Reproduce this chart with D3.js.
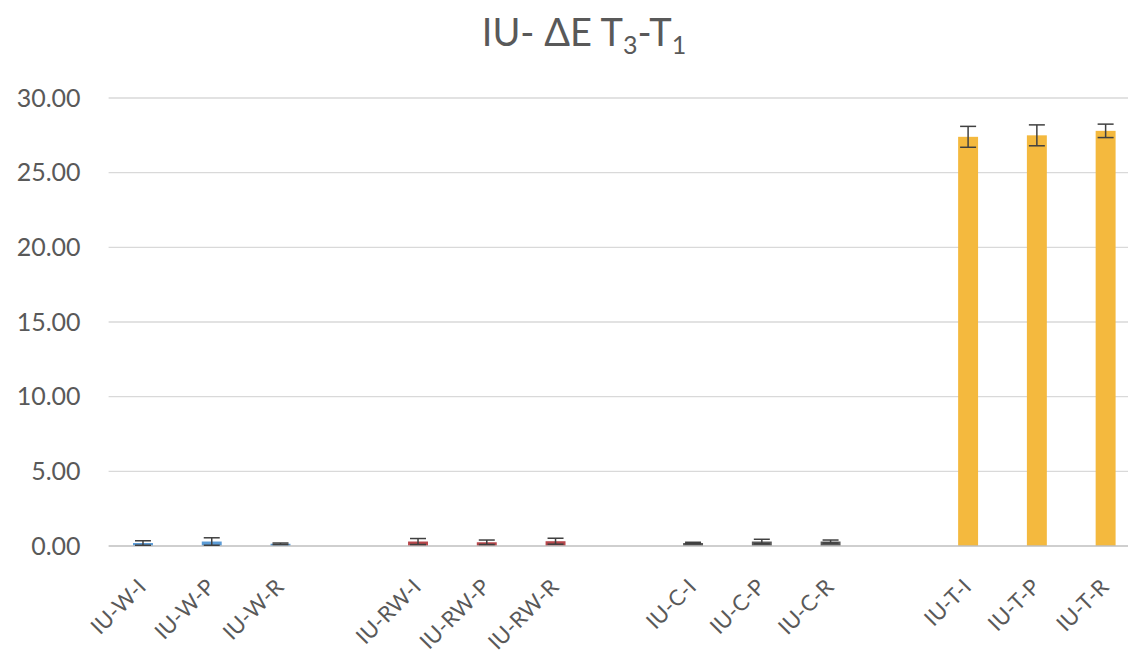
<!DOCTYPE html>
<html>
<head>
<meta charset="utf-8">
<script src="https://cdn.jsdelivr.net/npm/d3@7"></script>
<style>
  html, body { margin: 0; padding: 0; background: #fff; }
  svg { display: block; font-family: Lato, "Open Sans", sans-serif; }
</style>
</head>
<body>
<svg id="chart" width="1128" height="660"></svg>
<script>
// Categories (empty strings are the gaps between groups)
const categories = ["IU-W-I","IU-W-P","IU-W-R","",
                    "IU-RW-I","IU-RW-P","IU-RW-R","",
                    "IU-C-I","IU-C-P","IU-C-R","",
                    "IU-T-I","IU-T-P","IU-T-R"];
const values = [0.20, 0.30, 0.15, null,
                0.30, 0.25, 0.32, null,
                0.20, 0.30, 0.30, null,
                27.40, 27.50, 27.80];
const errors = [0.15, 0.25, 0.05, null,
                0.20, 0.15, 0.20, null,
                0.05, 0.15, 0.10, null,
                0.70, 0.70, 0.45];
const groupOf = ["W","W","W",null,"RW","RW","RW",null,"C","C","C",null,"T","T","T"];
const groupColors = {W: "#5B9BD5", RW: "#B8474B", C: "#595959", T: "#F4B93E"};
const yTicks = [0, 5, 10, 15, 20, 25, 30];

const svg = d3.select("#chart");
const W = 1128, H = 660;
const mLeft = 108.6, mRight = 1140, mTop = 98, mBottom = 546;

const x = d3.scaleBand().domain(d3.range(categories.length))
  .range([mLeft, mRight]).paddingInner(0.71).paddingOuter(0.355);
const y = d3.scaleLinear().domain([0, 30]).range([mBottom, mTop]);

// Title
const title = svg.append("text")
  .attr("x", 584).attr("y", 46)
  .attr("text-anchor", "middle")
  .attr("fill", "#595959")
  .attr("font-size", 38);
title.append("tspan").text("IU- \u0394E T");
title.append("tspan").attr("font-size", 25).attr("dy", 8).text("3");
title.append("tspan").attr("dy", -8).text("-T");
title.append("tspan").attr("font-size", 25).attr("dy", 8).text("1");

// Gridlines
svg.append("g").selectAll("line").data(yTicks.filter(d => d > 0)).join("line")
  .attr("x1", mLeft).attr("x2", W)
  .attr("y1", d => y(d)).attr("y2", d => y(d))
  .attr("stroke", "#D9D9D9").attr("stroke-width", 1.3);

// Y axis labels
const yAxis = svg.append("g").attr("transform", `translate(${mLeft},0)`)
  .call(d3.axisLeft(y).tickValues(yTicks).tickFormat(d3.format(".2f")).tickSize(0).tickPadding(28));
yAxis.select(".domain").remove();
yAxis.selectAll("text").attr("fill", "#595959").attr("font-size", 25)
  .attr("font-family", "Lato, 'Open Sans', sans-serif");

// Bars
const idx = d3.range(categories.length).filter(i => values[i] !== null);
svg.append("g").selectAll("rect").data(idx).join("rect")
  .attr("x", i => x(i)).attr("width", x.bandwidth())
  .attr("y", i => y(values[i])).attr("height", i => y(0) - y(values[i]))
  .attr("fill", i => groupColors[groupOf[i]]);

// Baseline axis
svg.append("line").attr("x1", mLeft).attr("x2", W)
  .attr("y1", y(0)).attr("y2", y(0))
  .attr("stroke", "#BFBFBF").attr("stroke-width", 1.3);

// Error bars
const eg = svg.append("g").attr("stroke", "#404040").attr("stroke-width", 1.5);
idx.forEach(i => {
  const cx = x(i) + x.bandwidth() / 2;
  const lo = Math.max(0, values[i] - errors[i]), hi = values[i] + errors[i];
  eg.append("line").attr("x1", cx).attr("x2", cx).attr("y1", y(lo)).attr("y2", y(hi));
  eg.append("line").attr("x1", cx - 8).attr("x2", cx + 8).attr("y1", y(hi)).attr("y2", y(hi));
  eg.append("line").attr("x1", cx - 8).attr("x2", cx + 8).attr("y1", y(lo)).attr("y2", y(lo));
});

// X labels
svg.append("g").selectAll("text").data(idx).join("text")
  .attr("transform", i => `translate(${x(i) + x.bandwidth() / 2 - 1},${mBottom + 37}) rotate(-45)`)
  .attr("text-anchor", "end")
  .attr("dy", "0.35em")
  .attr("fill", "#595959")
  .attr("font-size", 22)
  .text(i => categories[i]);
</script>
</body>
</html>
